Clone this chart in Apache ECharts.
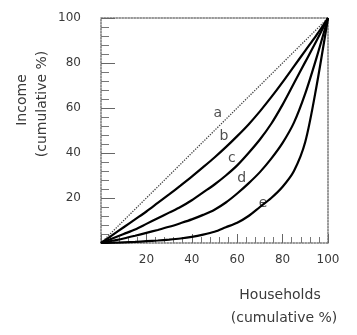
<!DOCTYPE html>
<html>
<head>
<meta charset="utf-8">
<script src="https://cdn.jsdelivr.net/npm/echarts@6/dist/echarts.min.js"></script>
<style>html,body{margin:0;padding:0;background:#fff;}#c{width:357px;height:335px;}</style>
</head>
<body>
<div id="c"></div>
<script>
// Cumulative % of households (x)
const households = [0,5,10,15,20,25,30,35,40,45,50,55,60,65,70,75,80,85,90,95,100];
// Cumulative % of income for each Lorenz curve
const incomeA = [0,5,10,15,20,25,30,35,40,45,50,55,60,65,70,75,80,85,90,95,100];
const incomeB = [0,3.5,7,10.5,14,17.8,21.6,25.5,29.5,33.7,38,42.6,47.5,52.7,58.5,64.8,71.5,78.5,85.5,92.5,100];
const incomeC = [0,2,4,6,8.5,11,13.5,16,19,22.5,26,30,34.5,40,46,53,61.5,71,80.5,90,100];
const incomeD = [0,1,2,3.2,4.5,5.8,7.2,8.8,10.5,12.5,14.8,18,22,26.5,31.5,37.5,44.5,53.5,66.5,82.5,100];
const incomeE = [0,0.1,0.3,0.5,0.8,1.1,1.5,2,2.7,3.7,5,7,9,12,16,20,25,32,45,70,100];
// Curve letters and where they sit (data units)
const curveNames = ['a','b','c','d','e'];
const labelX = [51.5,54.2,57.6,62,71.4];
const labelY = [57.8,47.6,37.8,28.9,17.8];
// Axis ticks
const tickValues = [20,40,60,80,100];

const pairs = ys => households.map((x,i)=>[x,ys[i]]);
const font = 'DejaVu Sans';
const chart = echarts.init(document.getElementById('c'));
const axisBase = {
  type:'value', min:0, max:100, interval:20,
  splitLine:{show:false},
  axisLine:{show:true, onZero:false, lineStyle:{color:'#777', type:'dotted', width:1.5}},
};
chart.setOption({
  animation:false,
  backgroundColor:'#fff',
  grid:{left:101, top:18, right:29, bottom:92},
  xAxis:[
    Object.assign({}, axisBase, {
      position:'bottom',
      axisTick:{show:true, inside:true, length:9, lineStyle:{color:'#666'}},
      minorTick:{show:true, splitNumber:5, length:6, lineStyle:{color:'#777'}},
      axisLabel:{color:'#3a3a3a', fontFamily:font, fontSize:12, margin:11,
        formatter:v=>tickValues.includes(v)?String(v):''}
    }),
    Object.assign({}, axisBase, {position:'top', axisTick:{show:false}, axisLabel:{show:false}})
  ],
  yAxis:[
    Object.assign({}, axisBase, {
      position:'left',
      axisTick:{show:true, inside:true, length:14, lineStyle:{color:'#666'}},
      minorTick:{show:true, splitNumber:5, length:8, lineStyle:{color:'#777'}},
      axisLabel:{color:'#3a3a3a', fontFamily:font, fontSize:12, margin:20,
        formatter:v=>tickValues.includes(v)?String(v):''}
    }),
    Object.assign({}, axisBase, {position:'right', axisTick:{show:false}, axisLabel:{show:false}})
  ],
  graphic:[
    {type:'text', x:22, y:100, rotation:Math.PI/2, style:{text:'Income', fill:'#3a3a3a', font:'14px "DejaVu Sans"', textAlign:'center', textVerticalAlign:'middle'}},
    {type:'text', x:42, y:104, rotation:Math.PI/2, style:{text:'(cumulative %)', fill:'#3a3a3a', font:'14px "DejaVu Sans"', textAlign:'center', textVerticalAlign:'middle'}},
    {type:'text', x:280, y:295, style:{text:'Households', fill:'#3a3a3a', font:'14px "DejaVu Sans"', textAlign:'center', textVerticalAlign:'middle'}},
    {type:'text', x:284, y:318, style:{text:'(cumulative %)', fill:'#3a3a3a', font:'14px "DejaVu Sans"', textAlign:'center', textVerticalAlign:'middle'}}
  ],
  series:[
    {type:'line', data:pairs(incomeA), symbol:'none', lineStyle:{color:'#444', width:1.3, type:'dotted'}},
    {type:'line', data:pairs(incomeB), symbol:'none', smooth:0.3, lineStyle:{color:'#000', width:2.2}},
    {type:'line', data:pairs(incomeC), symbol:'none', smooth:0.3, lineStyle:{color:'#000', width:2.2}},
    {type:'line', data:pairs(incomeD), symbol:'none', smooth:0.3, lineStyle:{color:'#000', width:2.2}},
    {type:'line', data:pairs(incomeE), symbol:'none', smooth:0.3, lineStyle:{color:'#000', width:2.2}},
    {type:'scatter', symbolSize:0, silent:true,
      data:curveNames.map((n,i)=>({value:[labelX[i],labelY[i]], name:n})),
      label:{show:true, position:'inside', formatter:p=>p.name, color:'#222', fontFamily:font, fontSize:14}}
  ]
});
</script>
</body>
</html>
